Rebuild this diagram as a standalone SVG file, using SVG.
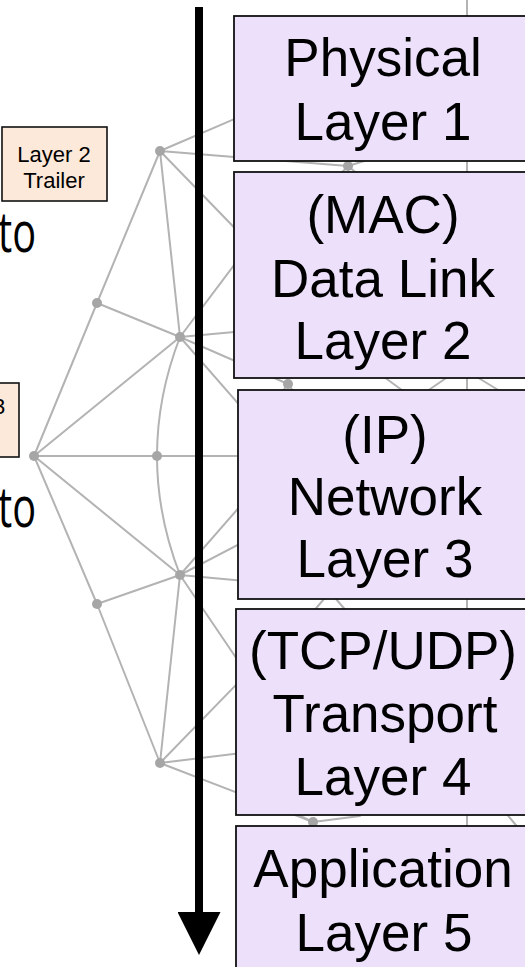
<svg xmlns="http://www.w3.org/2000/svg" width="525" height="967" viewBox="0 0 525 967">
  <style>
    .edge { stroke: #b3b3b3; stroke-width: 2; fill: none; stroke-linecap: round; }
    .dot { fill: #a6a6a6; }
    .layer { fill: #ece0fa; stroke: #111; stroke-width: 1.8; }
    .tag { fill: #fce9d9; stroke: #111; stroke-width: 1.6; }
    .big { font-family: "Liberation Sans", Arial, sans-serif; font-size: 53px; fill: #000; text-anchor: middle; }
    .small { font-family: "Liberation Sans", Arial, sans-serif; font-size: 22px; fill: #000; text-anchor: middle; }
    .side { font-family: "Open Sans", "Liberation Sans", sans-serif; font-size: 57px; fill: #000; }
  </style>
  <defs>
    <!-- triangular head, drawn along +x so orient="auto" points it down the shaft -->
    <marker id="head" viewBox="0 0 43 43" refX="0" refY="21.5" markerWidth="43" markerHeight="43" markerUnits="userSpaceOnUse" orient="auto">
      <polygon points="0,0 43,21.5 0,43" fill="#000"/>
    </marker>
  </defs>
  <rect width="525" height="967" fill="#fff"/>

  <!-- background mesh (geodesic wireframe) -->
  <g id="mesh">
    <path class="edge" d="M160,151 L97,303 M160,151 L180,337 M97,303 L180,337 M97,303 L34,456 M180,337 L34,456
      M34,456 L157,456 L467,456 M34,456 L180,575 M34,456 L97,604 M97,604 L180,575 M97,604 L160,763 M180,575 L160,763
      M180,337 Q134,456 180,575"/>
    <!-- spokes running on behind the layer boxes -->
    <path class="edge" d="M160,151 L260,108 M160,151 L348,166 M160,151 L290,285
      M180,337 L280,204 M180,337 L300,326 M180,337 L288,384 M180,337 L270,440
      M180,575 L270,472 M180,575 L270,528 M180,575 L300,586 M180,575 L270,708
      M160,763 L270,650 M160,763 L300,746 M160,763 L313,822"/>
    <!-- fragments seen in the gaps between boxes -->
    <path class="edge" d="M348,166 L400,150 M348,166 L330,185 M348,166 L372,186
      M467,0 L467,967
      M288,384 L300,400 M288,384 L276,400
      M380,374 L410,396 M420,396 L452,374 M472,374 L508,396
      M330,592 L306,620 M330,592 L354,620
      M313,822 L292,812 M313,822 L360,816 M313,822 L330,840 M505,812 L520,830"/>
    <g class="dot">
      <circle cx="160" cy="151" r="5"/>
      <circle cx="97" cy="303" r="5"/>
      <circle cx="180" cy="337" r="5"/>
      <circle cx="34" cy="456" r="5"/>
      <circle cx="157" cy="456" r="5"/>
      <circle cx="180" cy="575" r="5"/>
      <circle cx="97" cy="604" r="5"/>
      <circle cx="160" cy="763" r="5"/>
      <circle cx="348" cy="166" r="5"/>
      <circle cx="288" cy="384" r="5"/>
      <circle cx="313" cy="822" r="5"/>
    </g>
  </g>

  <!-- side labels -->
  <g id="trailer">
    <rect class="tag" x="2" y="127" width="105" height="74"/>
    <text class="small" x="54" y="162">Layer 2</text>
    <text class="small" x="54" y="188">Trailer</text>
  </g>
  <g id="header3">
    <rect class="tag" x="-20" y="383" width="39" height="74"/>
    <text class="small" x="-1" y="414">3</text>
  </g>
  <g id="word-to-1">
    <text class="side" x="-2" y="252" textLength="38" lengthAdjust="spacingAndGlyphs">to</text>
  </g>
  <g id="word-to-2">
    <text class="side" x="-2" y="527" textLength="38" lengthAdjust="spacingAndGlyphs">to</text>
  </g>

  <!-- connectors -->
  <g id="connectors">
    <line x1="199" y1="7" x2="199" y2="912" stroke="#000" stroke-width="8" marker-end="url(#head)"/>
  </g>

  <!-- protocol layers -->
  <g id="layer1">
    <rect class="layer" x="234" y="16" width="300" height="145"/>
    <text class="big" x="383" y="76">Physical</text>
    <text class="big" x="383" y="140">Layer 1</text>
  </g>
  <g id="layer2">
    <rect class="layer" x="234" y="172" width="300" height="206"/>
    <text class="big" x="383" y="233">(MAC)</text>
    <text class="big" x="383" y="297">Data Link</text>
    <text class="big" x="383" y="359">Layer 2</text>
  </g>
  <g id="layer3">
    <rect class="layer" x="238" y="390" width="300" height="209"/>
    <text class="big" x="385" y="453">(IP)</text>
    <text class="big" x="385" y="515">Network</text>
    <text class="big" x="385" y="577">Layer 3</text>
  </g>
  <g id="layer4">
    <rect class="layer" x="236" y="609" width="300" height="206"/>
    <text class="big" x="383" y="669">(TCP/UDP)</text>
    <text class="big" x="385" y="732">Transport</text>
    <text class="big" x="383" y="795">Layer 4</text>
  </g>
  <g id="layer5">
    <rect class="layer" x="236" y="826" width="300" height="160"/>
    <text class="big" x="383" y="887">Application</text>
    <text class="big" x="384" y="951">Layer 5</text>
  </g>
</svg>
